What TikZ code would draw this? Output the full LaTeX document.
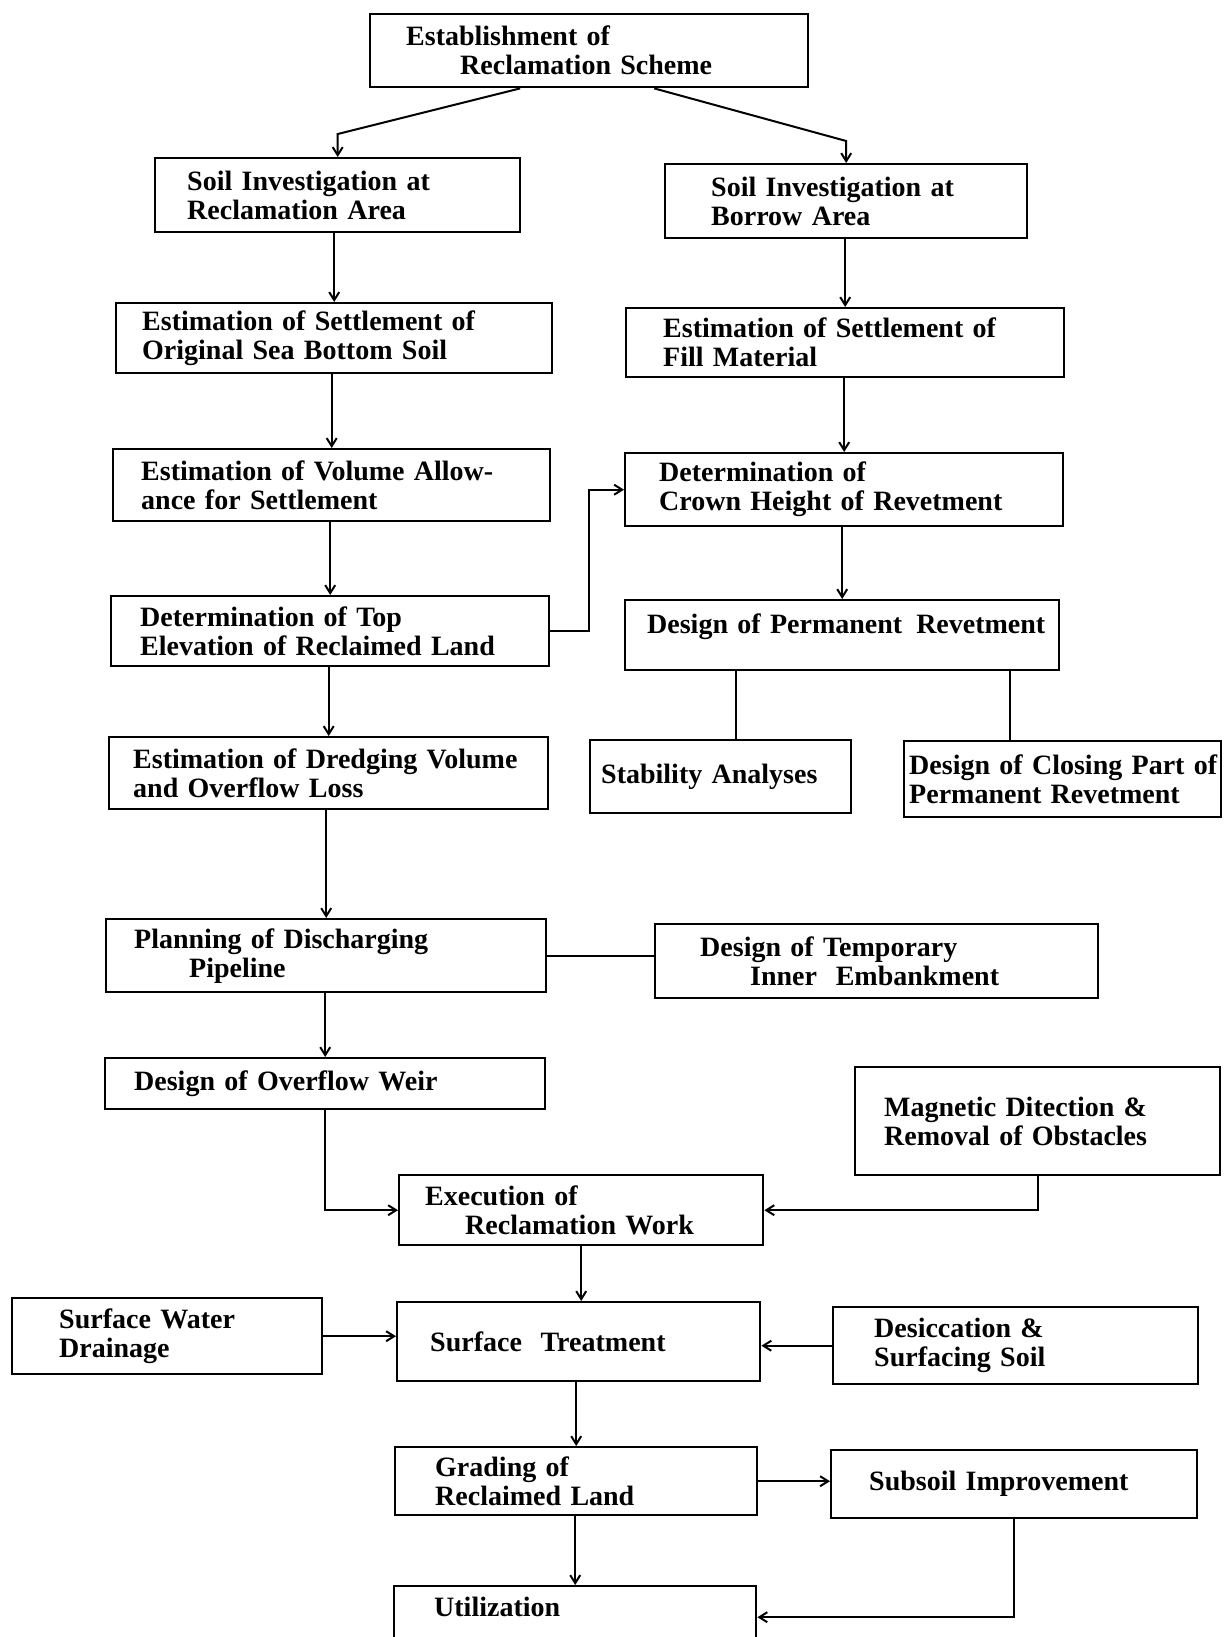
\documentclass[tikz,border=0pt]{standalone}
\usepackage{fontspec}
\setmainfont{Liberation Serif}
\usetikzlibrary{arrows.meta}

\begin{document}
\begin{tikzpicture}[x=0.5pt, y=-0.5pt,
        box/.style={draw, line width=1.2pt, anchor=north west, align=left, inner ysep=0pt,
            font=\bfseries\fontsize{14}{14.5}\selectfont},
        arr/.style={line width=1pt, -{Straight Barb[length=4pt, width=5pt]}},
        lnk/.style={line width=1pt}]
        \useasboundingbox (0,0) rectangle (1224,1637);
        \node[box, minimum height=36.5pt, inner xsep=18pt, text width=183pt] (est) at (369,13) {Establishment of\\\hspace*{27pt}Reclamation Scheme};
        \node[box, minimum height=37pt, inner xsep=16pt, text width=150.5pt] (invrec) at (154,157) {Soil Investigation at\\Reclamation Area};
        \node[box, minimum height=37pt, inner xsep=23pt, text width=135pt] (invbor) at (664,163) {Soil Investigation at\\Borrow Area};
        \node[box, minimum height=35pt, inner xsep=13pt, text width=192pt] (setorig) at (115,302) {Estimation of Settlement of\\Original Sea Bottom Soil};
        \node[box, minimum height=34.5pt, inner xsep=18.5pt, text width=182pt] (setfill) at (625,307) {Estimation of Settlement of\\Fill Material};
        \node[box, minimum height=36pt, inner xsep=14pt, text width=190.5pt] (volume) at (112,448) {Estimation of Volume Allow-\\ance for Settlement};
        \node[box, minimum height=36.5pt, inner xsep=17pt, text width=185pt] (crown) at (624,452) {Determination of\\Crown Height of Revetment};
        \node[box, minimum height=35pt, inner xsep=14.5pt, text width=190pt] (topelev) at (110,595) {Determination of Top\\Elevation of Reclaimed Land};
        \node[box, minimum height=35pt, inner xsep=1pt, text width=215pt] (permrev) at (624,599) {\mbox{\hspace*{10pt}Design of Permanent\ \,Revetment}\\[-3pt]\mbox{}};
        \node[box, minimum height=36pt, inner xsep=12pt, text width=195.5pt] (dredge) at (108,736) {Estimation of Dredging Volume\\and Overflow Loss};
        \node[box, minimum height=36.5pt, inner xsep=5.5pt, text width=119.5pt] (stab) at (589,739) {Stability Analyses};
        \node[box, minimum height=38pt, inner xsep=1pt, text width=156.5pt] (closing) at (903,740) {\mbox{\hspace*{1.5pt}Design of Closing Part of}\\\hspace*{1.5pt}Permanent Revetment};
        \node[box, minimum height=36.5pt, inner xsep=14pt, text width=192pt] (pipeline) at (105,918) {Planning of Discharging\\\hspace*{27.5pt}Pipeline};
        \node[box, minimum height=37pt, inner xsep=22.5pt, text width=176.5pt] (temp) at (654,923) {Design of Temporary\\\hspace*{25pt}Inner~~Embankment};
        \node[box, minimum height=25.5pt, inner xsep=14.5pt, text width=191pt] (weir) at (104,1057) {Design of Overflow Weir};
        \node[box, minimum height=54pt, inner xsep=14.5pt, text width=153.5pt] (magnet) at (854,1066) {Magnetic Ditection \&\\Removal of Obstacles};
        \node[box, minimum height=35pt, inner xsep=13pt, text width=156pt] (exec) at (398,1174) {Execution of\\\hspace*{20pt}Reclamation Work};
        \node[box, minimum height=38pt, inner xsep=23.5pt, text width=108pt] (swd) at (11,1297) {Surface Water\\Drainage};
        \node[box, minimum height=39.5pt, inner xsep=16.5pt, text width=148.5pt] (surf) at (396,1301) {Surface~~Treatment};
        \node[box, minimum height=38.5pt, inner xsep=20.5pt, text width=141.5pt] (desic) at (832,1306) {Desiccation \&\\Surfacing Soil};
        \node[box, minimum height=34pt, inner xsep=20pt, text width=141pt] (grade) at (394,1446) {Grading of\\Reclaimed Land};
        \node[box, minimum height=34pt, inner xsep=19pt, text width=145pt] (subsoil) at (830,1449) {Subsoil Improvement};
        \node[box, minimum height=31pt, inner xsep=20pt, text width=141pt] (util) at (393,1585) {Utilization\\[-4pt]\mbox{}};
        \coordinate (stabtop) at ([xshift=7.5pt]stab.north);
        \coordinate (clstop) at ([xshift=-26.25pt]closing.north);
        \draw[arr] ([xshift=-34.5pt]est.south) -- ([yshift=11.5pt]invrec.north) -- (invrec.north);
        \draw[arr] ([xshift=32.5pt]est.south) -- ([yshift=11pt]invbor.north) -- (invbor.north);
        \draw[arr] (setorig.north |- invrec.south) -- (setorig.north);
        \draw[arr] (setfill.north |- invbor.south) -- (setfill.north);
        \draw[arr] (volume.north |- setorig.south) -- (volume.north);
        \draw[arr] (crown.north |- setfill.south) -- (crown.north);
        \draw[arr] (topelev.north |- volume.south) -- (topelev.north);
        \draw[arr] (permrev.north |- crown.south) -- (permrev.north);
        \draw[arr] (topelev.east) -- ++(39,0) |- (crown.west);
        \draw[arr] (dredge.north |- topelev.south) -- (dredge.north);
        \draw[lnk] (stabtop) -- (stabtop |- permrev.south);
        \draw[lnk] (clstop) -- (clstop |- permrev.south);
        \draw[arr] (pipeline.north |- dredge.south) -- (pipeline.north);
        \draw[lnk] (pipeline.east) -- (pipeline.east -| temp.west);
        \draw[arr] (weir.north |- pipeline.south) -- (weir.north);
        \draw[arr] (weir.south) |- (exec.west);
        \draw[arr] (magnet.south) |- (exec.east);
        \draw[arr] (exec.south) -- (exec.south |- surf.north);
        \draw[arr] (swd.east) -- (swd.east -| surf.west);
        \draw[arr] (desic.west) -- (desic.west -| surf.east);
        \draw[arr] (grade.north |- surf.south) -- (grade.north);
        \draw[arr] (grade.east) -- (grade.east -| subsoil.west);
        \draw[arr] (util.north |- grade.south) -- (util.north);
        \draw[arr] (subsoil.south) |- (util.east);
    \end{tikzpicture}
\end{document}
